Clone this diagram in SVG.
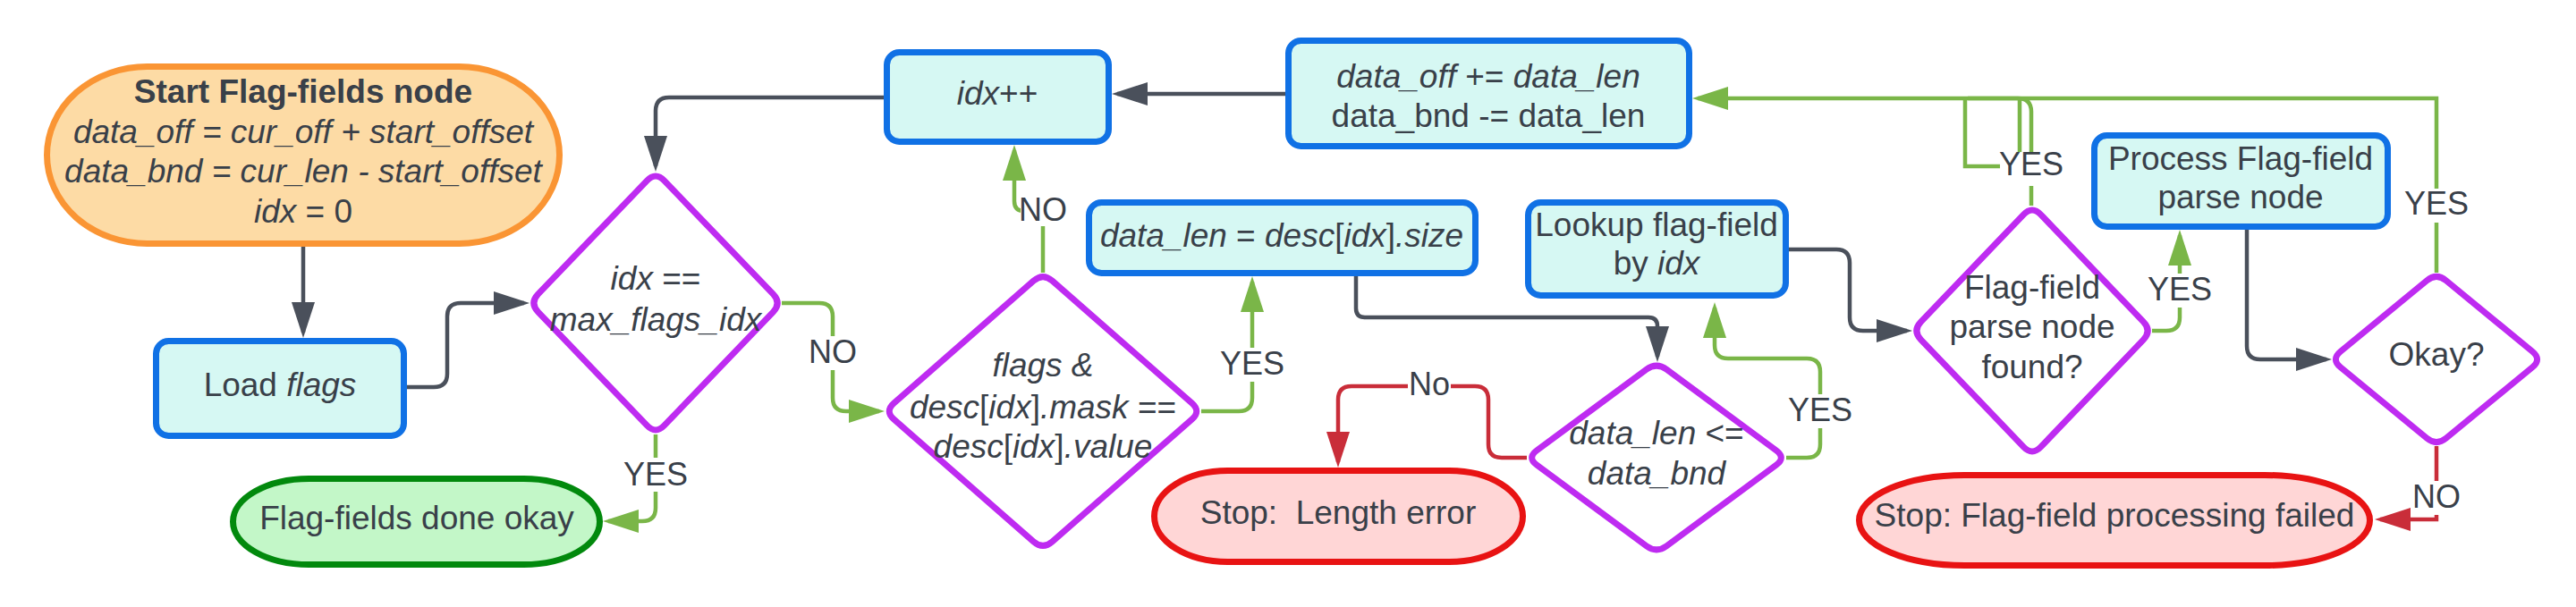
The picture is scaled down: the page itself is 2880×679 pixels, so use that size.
<svg xmlns="http://www.w3.org/2000/svg" width="2880" height="679" viewBox="0 0 2880 679">
<defs>
<style>
text{font-family:"Liberation Sans",Arial,sans-serif;font-size:37px;fill:#394049;text-anchor:middle}
.i{font-style:italic}
.b{font-weight:bold}
.lbl{font-size:36px}
.box{fill:#D6F8F3;stroke:#1071E5;stroke-width:7}
.dia{fill:#FFFFFF;stroke:#BE2BF1;stroke-width:7}
.c{fill:none;stroke-width:4.5}
.dk{stroke:#4A505B;marker-end:url(#ad)}
.gr{stroke:#7AB648}
.ga{marker-end:url(#ag)}
.rd{stroke:#C92D39;marker-end:url(#ar)}
.bg{fill:#FFFFFF}
</style>
<marker id="ad" viewBox="0 0 40 26" refX="34" refY="13" markerWidth="40" markerHeight="26" markerUnits="userSpaceOnUse" orient="auto"><path d="M0,0L40,13L0,26Z" fill="#4A505B"/></marker>
<marker id="ag" viewBox="0 0 40 26" refX="34" refY="13" markerWidth="40" markerHeight="26" markerUnits="userSpaceOnUse" orient="auto"><path d="M0,0L40,13L0,26Z" fill="#7AB648"/></marker>
<marker id="ar" viewBox="0 0 40 26" refX="34" refY="13" markerWidth="40" markerHeight="26" markerUnits="userSpaceOnUse" orient="auto"><path d="M0,0L40,13L0,26Z" fill="#C92D39"/></marker>
</defs>
<rect width="2880" height="679" fill="#FFFFFF"/>

<g id="connectors">
<path class="c dk" d="M339,276 V372"/>
<path class="c dk" d="M455,433 H485 Q500,433 500,418 V354 Q500,339 515,339 H586"/>
<path class="c dk" d="M988,109 H748 Q733,109 733,124 V186"/>
<path class="c dk" d="M1437,105 H1249"/>
<path class="c dk" d="M1516,309 V345 Q1516,355 1526,355 H1843 Q1853,355 1853,365 V399"/>
<path class="c dk" d="M2000,279 H2053 Q2068,279 2068,294 V355 Q2068,370 2083,370 H2132"/>
<path class="c dk" d="M2512,257 V387 Q2512,402 2527,402 H2601"/>

<path class="c gr ga" d="M733,486 V568 Q733,583 718,583 H680"/>
<path class="c gr ga" d="M874,339 H916 Q931,339 931,354 V445 Q931,460 946,460 H983"/>
<path class="c gr ga" d="M1166,305 V236 H1145 Q1134,236 1134,225 V168"/>
<path class="c gr ga" d="M1343,460 H1385 Q1400,460 1400,445 V315"/>
<path class="c gr ga" d="M1997,512 H2020 Q2035,512 2035,497 V416 Q2035,401 2020,401 H1932 Q1917,401 1917,386 V344"/>
<path class="c gr" d="M2271,230 V125 Q2271,110 2256,110 H2200"/>
<path class="c gr ga" d="M2724,305 V110 H1898"/>
<path class="c gr" d="M2197,110 V186 H2258 V110"/>
<path class="c gr ga" d="M2406,370 H2422 Q2437,370 2437,355 V263"/>

<path class="c rd" d="M1707,512 H1679 Q1664,512 1664,497 V447 Q1664,432 1649,432 H1511 Q1496,432 1496,447 V517"/>
<path class="c rd" d="M2724,499 V581 H2661"/>

<rect class="bg" x="695" y="512" width="76" height="38"/><text class="lbl" x="733" y="543">YES</text>
<rect class="bg" x="903" y="376" width="56" height="38"/><text class="lbl" x="931" y="406">NO</text>
<rect class="bg" x="1141" y="219" width="50" height="34"/><text class="lbl" x="1166" y="247">NO</text>
<rect class="bg" x="1362" y="389" width="76" height="38"/><text class="lbl" x="1400" y="419">YES</text>
<rect class="bg" x="1574" y="414" width="48" height="34"/><text class="lbl" x="1598" y="442">No</text>
<rect class="bg" x="1997" y="441" width="76" height="38"/><text class="lbl" x="2035" y="471">YES</text>
<rect class="bg" x="2236" y="170" width="70" height="38"/><text class="lbl" x="2271" y="196">YES</text>
<rect class="bg" x="2399" y="306" width="76" height="38"/><text class="lbl" x="2437" y="336">YES</text>
<rect class="bg" x="2686" y="211" width="76" height="38"/><text class="lbl" x="2724" y="240">YES</text>
<rect class="bg" x="2696" y="538" width="56" height="38"/><text class="lbl" x="2724" y="568">NO</text>
</g>

<g id="start">
<rect x="52.5" y="74.5" width="573" height="198" rx="112" ry="99" fill="#FDDBA5" stroke="#FA9534" stroke-width="7"/>
<text x="339" y="115" class="b">Start Flag-fields node</text>
<text x="339" y="160" class="i">data_off = cur_off + start_offset</text>
<text x="339" y="204" class="i">data_bnd = cur_len - start_offset</text>
<text x="339" y="249"><tspan class="i">idx</tspan> = 0</text>
</g>

<g id="load-flags">
<rect class="box" x="174.5" y="381.5" width="277" height="106" rx="14"/>
<text x="313" y="443">Load <tspan class="i">flags</tspan></text>
</g>

<g id="done-okay">
<rect x="260.5" y="535.5" width="410" height="96" rx="85" ry="48" fill="#C3F7C8" stroke="#02890D" stroke-width="7"/>
<text x="466" y="592">Flag-fields done okay</text>
</g>

<g id="dec-max">
<path class="dia" d="M742.7,202.1 L864.3,328.9 Q874,339 864.3,349.1 L742.7,475.9 Q733,486 723.3,475.9 L601.7,349.1 Q592,339 601.7,328.9 L723.3,202.1 Q733,192 742.7,202.1 Z"/>
<text x="733" y="324"><tspan class="i">idx</tspan> ==</text>
<text x="733" y="370" class="i">max_flags_idx</text>
</g>

<g id="idx-inc">
<rect class="box" x="991.5" y="58.5" width="248" height="100" rx="14"/>
<text x="1115" y="117"><tspan class="i">idx</tspan>++</text>
</g>

<g id="data-off">
<rect class="box" x="1440.5" y="45.5" width="448" height="118" rx="14"/>
<text x="1664" y="98"><tspan class="i">data_off</tspan> += <tspan class="i">data_len</tspan></text>
<text x="1664" y="142">data_bnd -= data_len</text>
</g>

<g id="dec-mask">
<path class="dia" d="M1176.5,314.2 L1332.5,450.8 Q1343,460 1332.5,469.2 L1176.5,605.8 Q1166,615 1155.5,605.8 L999.5,469.2 Q989,460 999.5,450.8 L1155.5,314.2 Q1166,305 1176.5,314.2 Z"/>
<text x="1166" y="421" class="i">flags &amp;</text>
<text x="1166" y="468"><tspan class="i">desc</tspan>[<tspan class="i">idx</tspan>]<tspan class="i">.mask</tspan> ==</text>
<text x="1166" y="512"><tspan class="i">desc</tspan>[<tspan class="i">idx</tspan>]<tspan class="i">.value</tspan></text>
</g>

<g id="data-len">
<rect class="box" x="1217.5" y="226.5" width="432" height="79" rx="14"/>
<text x="1433" y="276"><tspan class="i">data_len</tspan> = <tspan class="i">desc</tspan>[<tspan class="i">idx</tspan>]<tspan class="i">.size</tspan></text>
</g>

<g id="stop-length">
<rect x="1290.5" y="526.5" width="412" height="102" rx="82" ry="51" fill="#FFD6D6" stroke="#E81313" stroke-width="7"/>
<text x="1496" y="586" style="white-space:pre">Stop:  Length error</text>
</g>

<g id="dec-len">
<path class="dia" d="M1863.3,413.3 L1985.7,503.7 Q1997,512 1985.7,520.3 L1863.3,610.7 Q1852,619 1840.7,610.7 L1718.3,520.3 Q1707,512 1718.3,503.7 L1840.7,413.3 Q1852,405 1863.3,413.3 Z"/>
<text x="1852" y="497"><tspan class="i">data_len</tspan> &lt;=</text>
<text x="1852" y="542" class="i">data_bnd</text>
</g>

<g id="lookup">
<rect class="box" x="1708.5" y="226.5" width="288" height="104" rx="14"/>
<text x="1852" y="264">Lookup flag-field</text>
<text x="1852" y="307">by <tspan class="i">idx</tspan></text>
</g>

<g id="dec-found">
<path class="dia" d="M2281.7,240.1 L2396.3,359.9 Q2406,370 2396.3,380.1 L2281.7,499.9 Q2272,510 2262.3,499.9 L2147.7,380.1 Q2138,370 2147.7,359.9 L2262.3,240.1 Q2272,230 2281.7,240.1 Z"/>
<text x="2272" y="334">Flag-field</text>
<text x="2272" y="378">parse node</text>
<text x="2272" y="423">found?</text>
</g>

<g id="process">
<rect class="box" x="2341.5" y="151.5" width="328" height="102" rx="14"/>
<text x="2505" y="190">Process Flag-field</text>
<text x="2505" y="233">parse node</text>
</g>

<g id="dec-okay">
<path class="dia" d="M2734.8,313.9 L2831.2,393.1 Q2842,402 2831.2,410.9 L2734.8,490.1 Q2724,499 2713.2,490.1 L2616.8,410.9 Q2606,402 2616.8,393.1 L2713.2,313.9 Q2724,305 2734.8,313.9 Z"/>
<text x="2724" y="409">Okay?</text>
</g>

<g id="stop-failed">
<rect x="2078.5" y="531.5" width="571" height="101" rx="118" ry="50.5" fill="#FFD6D6" stroke="#E81313" stroke-width="7"/>
<text x="2364" y="589">Stop: Flag-field processing failed</text>
</g>
</svg>
